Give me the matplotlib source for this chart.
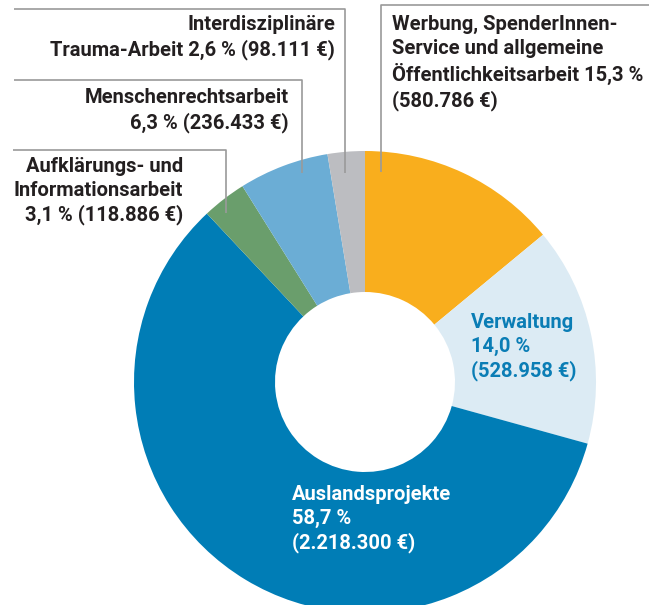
import matplotlib.pyplot as plt

# segments clockwise from 12 o'clock
segments = [
    "Werbung, SpenderInnen-\nService und allgemeine\nÖffentlichkeitsarbeit",
    "Verwaltung",
    "Auslandsprojekte",
    "Aufklärungs- und\nInformationsarbeit",
    "Menschenrechtsarbeit",
    "Interdisziplinäre\nTrauma-Arbeit",
]
shares = [15.3, 14.0, 58.7, 3.1, 6.3, 2.6]
amounts = ["580.786", "528.958", "2.218.300", "118.886", "236.433", "98.111"]
# arc sizes as drawn in the source graphic (first two arcs are swapped there)
arc_shares = [14.0, 15.3, 58.7, 3.1, 6.3, 2.6]

COLORS = ["#f9ae1d", "#dcebf4", "#007db6", "#6a9e6c", "#6badd5", "#bcbdc1"]
TEXT = "#231f20"
LINE = "#9a9a9a"
FONT = "Roboto"

W, H = 654, 605


def py(y):
    # pixel row -> data y
    return H - y


def pct(v):
    return f"{v:.1f}".replace(".", ",") + " %"


fig = plt.figure(figsize=(W / 100, H / 100), dpi=100)
ax = fig.add_axes([0, 0, 1, 1])

ax.pie(
    arc_shares,
    colors=COLORS,
    startangle=90,
    counterclock=False,
    center=(365, py(382)),
    radius=231,
    wedgeprops={"width": 141, "linewidth": 0},
    frame=True,
)
ax.set_xlim(0, W)
ax.set_ylim(0, H)
ax.set_aspect("auto")
ax.axis("off")

# leader lines (corner at top, drop down to the ring)
leaders = [
    (381, 649, 5, 172),
    (345, 14, 9, 173),
    (302, 14, 80, 173),
    (226, 13, 150, 213),
]
for x_drop, x_end, y_top, y_bot in leaders:
    ax.plot([x_end, x_drop, x_drop], [py(y_top), py(y_top), py(y_bot)],
            color=LINE, linewidth=1.2, solid_capstyle="butt")

style = dict(fontsize=14.5, fontweight="bold", family=FONT, linespacing=1.3, va="top")

ax.text(392, py(15),
        f"{segments[0]} {pct(shares[0])}\n({amounts[0]} €)",
        ha="left", color=TEXT, **style)
ax.text(335, py(15),
        f"{segments[5]} {pct(shares[5])} ({amounts[5]} €)",
        ha="right", multialignment="right", color=TEXT, **style)
ax.text(289, py(88),
        f"{segments[4]}\n{pct(shares[4])} ({amounts[4]} €)",
        ha="right", multialignment="right", color=TEXT, **style)
ax.text(183, py(157),
        f"{segments[3]}\n{pct(shares[3])} ({amounts[3]} €)",
        ha="right", multialignment="right", color=TEXT, **style)
ax.text(471, py(313),
        f"{segments[1]}\n{pct(shares[1])}\n({amounts[1]} €)",
        ha="left", color="#0a7db5", **style)
ax.text(292, py(485),
        f"{segments[2]}\n{pct(shares[2])}\n({amounts[2]} €)",
        ha="left", color="white", **style)

fig.savefig("out.png", dpi=100)
